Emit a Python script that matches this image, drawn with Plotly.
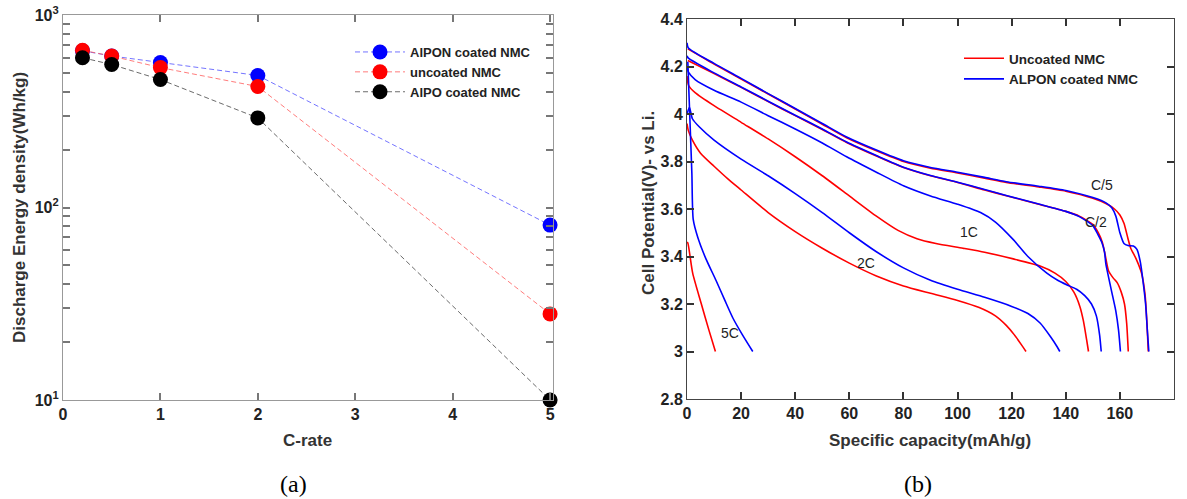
import plotly.graph_objects as go

# ---------------- (a) energy density vs C-rate ----------------
c_rate = [0.2, 0.5, 1, 2, 5]
alpon_energy = [652, 612, 567, 485, 81]
uncoated_energy = [656, 612, 533, 425, 28]
alpo_energy = [600, 553, 462, 292, 10]

# ---------------- (b) discharge curves ----------------
# uncoated NMC (red)
red_c5_cap = [0.3, 10, 20, 30, 40, 50, 59, 70, 80, 90, 100, 110, 118, 130, 140, 150, 155, 158, 160, 161.5, 163, 164, 166, 168, 169.3, 170, 170.5]
red_c5_v = [4.274, 4.21, 4.147, 4.084, 4.021, 3.957, 3.90, 3.845, 3.80, 3.772, 3.752, 3.73, 3.712, 3.693, 3.675, 3.645, 3.622, 3.60, 3.575, 3.54, 3.475, 3.435, 3.39, 3.33, 3.24, 3.12, 3.0]
red_c2_cap = [0.3, 10, 20, 30, 40, 50, 59, 70, 80, 90, 100, 110, 118, 130, 140, 145, 150, 152, 153.5, 154.5, 155.8, 157.5, 159, 160.5, 161.7, 162.5, 163.1]
red_c2_v = [4.225, 4.17, 4.112, 4.052, 3.993, 3.935, 3.88, 3.823, 3.775, 3.74, 3.712, 3.68, 3.656, 3.62, 3.59, 3.57, 3.535, 3.50, 3.46, 3.41, 3.34, 3.31, 3.29, 3.25, 3.20, 3.12, 3.0]
red_1c_cap = [0, 0.6, 3, 10, 20, 30, 40, 50, 60, 70, 78, 85, 92, 102, 110, 120.6, 130.5, 136, 140, 143, 145.2, 146.5, 147.7, 148.4]
red_1c_v = [4.16, 4.12, 4.09, 4.035, 3.965, 3.895, 3.82, 3.74, 3.655, 3.57, 3.51, 3.475, 3.455, 3.435, 3.418, 3.39, 3.36, 3.33, 3.295, 3.25, 3.19, 3.13, 3.05, 3.0]
red_2c_cap = [0, 0.5, 2, 5, 10, 15, 20, 30, 40, 50, 60, 70, 80, 90, 100, 108, 114, 118, 121, 123.5, 125.3]
red_2c_v = [3.96, 3.93, 3.89, 3.835, 3.78, 3.728, 3.68, 3.585, 3.505, 3.435, 3.372, 3.318, 3.276, 3.245, 3.215, 3.185, 3.15, 3.11, 3.07, 3.03, 3.0]
red_5c_cap = [0, 0.3, 2.1, 5.2, 8.1, 10.5]
red_5c_v = [3.46, 3.457, 3.33, 3.204, 3.09, 3.0]

# ALPON coated NMC (blue)
blue_c5_cap = [0, 0.5, 10, 20, 30, 40, 50, 59, 70, 80, 90, 100, 110, 118, 130, 140, 150, 155, 157, 158.5, 160, 161.5, 163, 165, 166.3, 167.5, 168.5, 169.5, 170.2, 170.7]
blue_c5_v = [4.30, 4.278, 4.213, 4.15, 4.086, 4.023, 3.96, 3.903, 3.848, 3.803, 3.775, 3.755, 3.733, 3.715, 3.696, 3.678, 3.648, 3.625, 3.605, 3.57, 3.50, 3.455, 3.446, 3.444, 3.43, 3.38, 3.30, 3.20, 3.08, 3.0]
blue_c2_cap = [0, 0.5, 10, 20, 30, 40, 50, 59, 70, 80, 90, 100, 110, 118, 130, 140, 145, 150, 152, 153.3, 154.3, 154.8, 155.5, 157, 158.5, 159.5, 160.2]
blue_c2_v = [4.245, 4.235, 4.173, 4.114, 4.054, 3.995, 3.937, 3.882, 3.825, 3.776, 3.741, 3.713, 3.682, 3.657, 3.621, 3.59, 3.568, 3.53, 3.49, 3.46, 3.42, 3.37, 3.33, 3.25, 3.17, 3.09, 3.0]
blue_1c_cap = [0, 0.6, 3, 10, 20, 30, 40, 50, 59, 70, 80, 90, 100, 108.5, 114, 120.7, 126, 133, 137, 140.5, 144, 147, 149.5, 151.3, 152.5, 153.1]
blue_1c_v = [4.20, 4.175, 4.145, 4.10, 4.05, 3.993, 3.937, 3.878, 3.82, 3.755, 3.698, 3.655, 3.62, 3.585, 3.545, 3.47, 3.40, 3.33, 3.30, 3.28, 3.262, 3.235, 3.20, 3.15, 3.07, 3.0]
blue_2c_cap = [0, 0.9, 2, 4.6, 10, 20, 30, 40, 50, 60, 70, 80, 90, 100, 110, 120, 126, 130.5, 134.5, 136.8, 137.8]
blue_2c_v = [4.00, 4.028, 3.98, 3.945, 3.89, 3.81, 3.74, 3.665, 3.585, 3.50, 3.42, 3.352, 3.30, 3.262, 3.228, 3.19, 3.16, 3.12, 3.06, 3.02, 3.0]
blue_5c_cap = [0.3, 1.0, 1.8, 2.3, 4, 7, 10.7, 14, 17, 20.5, 24.3]
blue_5c_v = [4.22, 4.0, 3.75, 3.556, 3.48, 3.39, 3.30, 3.215, 3.14, 3.07, 3.0]

rate_labels = ["C/5", "C/2", "1C", "2C", "5C"]
rate_label_cap = [153.3, 151.1, 104.4, 66.3, 15.9]
rate_label_v = [3.701, 3.545, 3.503, 3.373, 3.078]

left_x_ticks = [0, 1, 2, 3, 4, 5]
left_y_ticks = [10, 20, 30, 40, 50, 60, 70, 80, 90, 100, 200, 300, 400, 500, 600, 700, 800, 900, 1000]
left_y_ticktext = ["10<sup>1</sup>", "", "", "", "", "", "", "", "",
                   "10<sup>2</sup>", "", "", "", "", "", "", "", "", "10<sup>3</sup>"]
right_x_ticks = list(range(0, 181, 20))
right_y_ticks = [2.8, 3.0, 3.2, 3.4, 3.6, 3.8, 4.0, 4.2, 4.4]
right_y_ticktext = ["2.8", "3", "3.2", "3.4", "3.6", "3.8", "4", "4.2", "4.4"]

W, H = 1187, 499
SANS = "Liberation Sans, Arial, sans-serif"


def bold(items):
    return ["<b>%s</b>" % s if s else "" for s in items]


fig = go.Figure()

# ---- panel (a)
fig.add_trace(go.Scatter(
    x=c_rate, y=alpon_energy, mode="lines+markers", name="AlPON coated NMC", cliponaxis=False,
    line=dict(color="rgba(70,70,255,0.75)", width=1, dash="5px,3px"),
    marker=dict(color="#0000ff", size=15), xaxis="x", yaxis="y", legend="legend"))
fig.add_trace(go.Scatter(
    x=c_rate, y=uncoated_energy, mode="lines+markers", name="uncoated NMC", cliponaxis=False,
    line=dict(color="rgba(255,80,80,0.75)", width=1, dash="5px,3px"),
    marker=dict(color="#ff0000", size=15), xaxis="x", yaxis="y", legend="legend"))
fig.add_trace(go.Scatter(
    x=c_rate, y=alpo_energy, mode="lines+markers", name="AlPO coated NMC", cliponaxis=False,
    line=dict(color="rgba(70,70,70,0.8)", width=1, dash="5px,3px"),
    marker=dict(color="#000000", size=15), xaxis="x", yaxis="y", legend="legend"))

# ---- panel (b)
red_curves = [(red_c5_cap, red_c5_v), (red_c2_cap, red_c2_v), (red_1c_cap, red_1c_v),
              (red_2c_cap, red_2c_v), (red_5c_cap, red_5c_v)]
blue_curves = [(blue_c5_cap, blue_c5_v), (blue_c2_cap, blue_c2_v), (blue_1c_cap, blue_1c_v),
               (blue_2c_cap, blue_2c_v), (blue_5c_cap, blue_5c_v)]
for i, (cx, cv) in enumerate(red_curves):
    fig.add_trace(go.Scatter(
        x=cx, y=cv, mode="lines", name="Uncoated NMC", showlegend=(i == 0),
        line=dict(color="#ff0000", width=1.6, shape="spline", smoothing=0.6),
        xaxis="x2", yaxis="y2", legend="legend2"))
for i, (cx, cv) in enumerate(blue_curves):
    fig.add_trace(go.Scatter(
        x=cx, y=cv, mode="lines", name="ALPON coated NMC", showlegend=(i == 0),
        line=dict(color="#0000ff", width=1.6, shape="spline", smoothing=0.6),
        xaxis="x2", yaxis="y2", legend="legend2"))

axis_common = dict(showline=True, mirror="ticks", ticks="inside", showgrid=False,
                   zeroline=False, automargin=False, ticklen=7, tickwidth=1.5)
tickfont = dict(size=16, color="#222", family=SANS)

fig.update_layout(
    width=W, height=H, margin=dict(l=0, r=0, t=0, b=0),
    paper_bgcolor="white", plot_bgcolor="white",
    font=dict(family=SANS, color="#222"),
    xaxis=dict(domain=[63 / W, 553 / W], range=[0, 5.03], tickmode="array",
               tickvals=left_x_ticks, ticktext=bold([str(v) for v in left_x_ticks]),
               linecolor="#999", tickcolor="#777", linewidth=1.2,
               tickfont=tickfont, anchor="y", **axis_common),
    yaxis=dict(domain=[1 - 400 / H, 1 - 15 / H], type="log", range=[1, 3], tickmode="array",
               tickvals=left_y_ticks, ticktext=bold(left_y_ticktext),
               linecolor="#999", tickcolor="#777", linewidth=1.2,
               tickfont=tickfont, anchor="x", **axis_common),
    xaxis2=dict(domain=[687 / W, 1174 / W], range=[0, 180], tickmode="array",
                tickvals=right_x_ticks, ticktext=bold([str(v) for v in right_x_ticks]),
                linecolor="#444", tickcolor="#333", linewidth=1,
                tickfont=tickfont, anchor="y2", **axis_common),
    yaxis2=dict(domain=[1 - 399 / H, 1 - 19 / H], range=[2.8, 4.4], tickmode="array",
                tickvals=right_y_ticks, ticktext=bold(right_y_ticktext),
                linecolor="#444", tickcolor="#333", linewidth=1,
                tickfont=tickfont, anchor="x2", **axis_common),
    legend=dict(x=350 / W, y=1 - 37 / H, xanchor="left", yanchor="top",
                bgcolor="rgba(0,0,0,0)", itemwidth=50, tracegroupgap=0,
                font=dict(size=13, weight="bold", color="#222")),
    legend2=dict(x=959 / W, y=1 - 43 / H, xanchor="left", yanchor="top",
                 bgcolor="rgba(0,0,0,0)", itemwidth=40, tracegroupgap=0,
                 font=dict(size=13.5, weight="bold", color="#222")),
    showlegend=True,
)

ann = []
ann.append(dict(text="<b>C-rate</b>", x=308 / W, y=1 - 440 / H, xref="paper", yref="paper",
                xanchor="center", yanchor="middle",
                showarrow=False, font=dict(size=17, color="#333")))
ann.append(dict(text="<b>Specific capacity(mAh/g)</b>", x=930 / W, y=1 - 440 / H, xref="paper", yref="paper",
                xanchor="center", yanchor="middle",
                showarrow=False, font=dict(size=17, color="#333")))
ann.append(dict(text="<b>Discharge Energy density(Wh/kg)</b>", x=19 / W, y=1 - 208 / H, xref="paper", yref="paper",
                xanchor="center", yanchor="middle",
                showarrow=False, textangle=-90, font=dict(size=17, color="#333")))
ann.append(dict(text="<b>Cell Potential(V)- vs Li.</b>", x=648 / W, y=1 - 203 / H, xref="paper", yref="paper",
                xanchor="center", yanchor="middle",
                showarrow=False, textangle=-90, font=dict(size=17, color="#333")))
ann.append(dict(text="(a)", x=293 / W, y=1 - 484 / H, xref="paper", yref="paper",
                xanchor="center", yanchor="middle",
                showarrow=False, font=dict(size=24, family="Liberation Serif, serif", color="#000")))
ann.append(dict(text="(b)", x=918 / W, y=1 - 484 / H, xref="paper", yref="paper",
                xanchor="center", yanchor="middle",
                showarrow=False, font=dict(size=24, family="Liberation Serif, serif", color="#000")))
for t, cx, cv in zip(rate_labels, rate_label_cap, rate_label_v):
    ann.append(dict(text=t, x=cx, y=cv, xref="x2", yref="y2", showarrow=False,
                    font=dict(size=14, color="#222")))
fig.update_layout(annotations=ann)

fig.write_html("out.html")
